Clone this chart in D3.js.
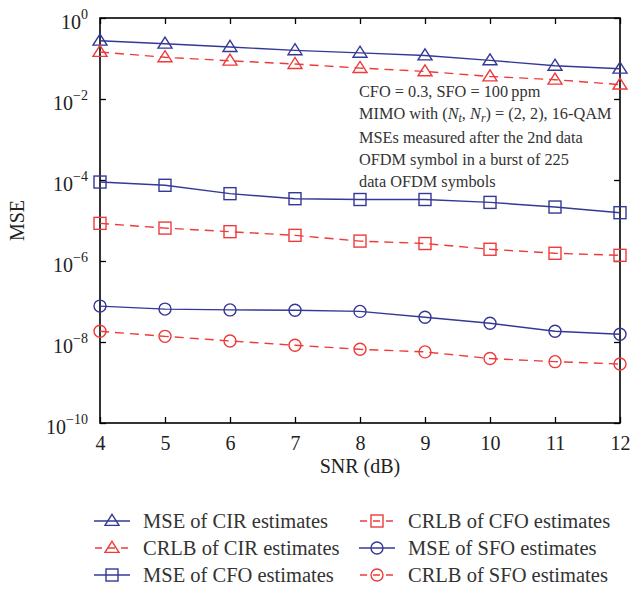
<!DOCTYPE html>
<html>
<head>
<meta charset="utf-8">
<script src="https://cdn.jsdelivr.net/npm/d3@7"></script>
<style>
  html, body { margin: 0; padding: 0; background: #fff; }
  svg { display: block; font-family: "Liberation Serif", "Times New Roman", serif; }
</style>
</head>
<body>
<svg id="chart" width="630" height="591"></svg>
<script>
// SNR points (dB)
const snr = [4, 5, 6, 7, 8, 9, 10, 11, 12];

// Simulated MSE values and Cramer-Rao lower bounds
const mseCIR  = [0.275, 0.232, 0.192, 0.159, 0.138, 0.119, 0.090, 0.066, 0.056];
const crlbCIR = [0.145, 0.107, 0.088, 0.073, 0.058, 0.048, 0.036, 0.030, 0.0226];
const mseCFO  = [8.9e-5, 7.4e-5, 4.6e-5, 3.45e-5, 3.3e-5, 3.3e-5, 2.8e-5, 2.15e-5, 1.56e-5];
const crlbCFO = [8.5e-6, 6.5e-6, 5.3e-6, 4.3e-6, 3.1e-6, 2.7e-6, 1.95e-6, 1.55e-6, 1.38e-6];
const mseSFO  = [7.7e-8, 6.5e-8, 6.2e-8, 6.1e-8, 5.7e-8, 4.1e-8, 2.9e-8, 1.84e-8, 1.55e-8];
const crlbSFO = [1.84e-8, 1.38e-8, 1.06e-8, 8.3e-9, 6.6e-9, 5.7e-9, 3.9e-9, 3.27e-9, 2.86e-9];

// Axis ticks
const xTicks = [4, 5, 6, 7, 8, 9, 10, 11, 12];
const yExponents = [0, -2, -4, -6, -8, -10];

const seriesNames = [
  "MSE of CIR estimates", "CRLB of CIR estimates", "MSE of CFO estimates",
  "CRLB of CFO estimates", "MSE of SFO estimates", "CRLB of SFO estimates"
];
const seriesValues = [mseCIR, crlbCIR, mseCFO, crlbCFO, mseSFO, crlbSFO];
const seriesMarkers = ["triangle", "triangle", "square", "square", "circle", "circle"];
const seriesKind = ["mse", "crlb", "mse", "crlb", "mse", "crlb"];

const BLUE = "#343896";
const RED = "#ee3a3a";

const svg = d3.select("#chart");
const plot = { left: 100, right: 620, top: 18, bottom: 423 };

const x = d3.scaleLinear().domain([4, 12]).range([plot.left, plot.right]);
const y = d3.scaleLog().domain([1e-10, 1]).range([plot.bottom, plot.top]);

// Frame
svg.append("rect")
  .attr("x", plot.left).attr("y", plot.top)
  .attr("width", plot.right - plot.left).attr("height", plot.bottom - plot.top)
  .attr("fill", "none").attr("stroke", "#000").attr("stroke-width", 1.6);

const tickVals = yExponents.map(e => Math.pow(10, e));

// Bottom axis with inward ticks
const gx = svg.append("g").attr("transform", `translate(0,${plot.bottom})`)
  .call(d3.axisBottom(x).tickValues(xTicks).tickSize(-6).tickPadding(13).tickFormat(d3.format("d")));
gx.select(".domain").remove();
gx.selectAll("line").attr("stroke", "#000").attr("stroke-width", 1.3);
gx.selectAll("text").attr("font-size", 20).attr("fill", "#222")
  .attr("font-family", "Liberation Serif, serif");

// Top axis ticks
const gxt = svg.append("g").attr("transform", `translate(0,${plot.top})`)
  .call(d3.axisTop(x).tickValues(xTicks).tickSize(-6).tickFormat(""));
gxt.select(".domain").remove();
gxt.selectAll("line").attr("stroke", "#000").attr("stroke-width", 1.3);

// Left axis with power-of-ten labels
const gy = svg.append("g").attr("transform", `translate(${plot.left},0)`)
  .call(d3.axisLeft(y).tickValues(tickVals).tickSize(-6).tickPadding(12).tickFormat(""));
gy.select(".domain").remove();
gy.selectAll("line").attr("stroke", "#000").attr("stroke-width", 1.3);
gy.selectAll(".tick").each(function(d) {
  const e = Math.round(Math.log10(d));
  const t = d3.select(this).select("text")
    .attr("font-family", "Liberation Serif, serif")
    .attr("fill", "#222").attr("font-size", 20).attr("dy", "0.5em");
  t.append("tspan").text("10");
  t.append("tspan").attr("font-size", 14).attr("dy", "-0.7em")
    .text(e === 0 ? "0" : "\u2212" + Math.abs(e));
});

// Right axis ticks
const gyr = svg.append("g").attr("transform", `translate(${plot.right},0)`)
  .call(d3.axisRight(y).tickValues(tickVals).tickSize(-6).tickFormat(""));
gyr.select(".domain").remove();
gyr.selectAll("line").attr("stroke", "#000").attr("stroke-width", 1.3);

// Axis titles
svg.append("text").attr("x", (plot.left + plot.right) / 2).attr("y", 473)
  .attr("text-anchor", "middle").attr("font-size", 20).attr("fill", "#222").text("SNR (dB)");
svg.append("text").attr("transform", `translate(24,${(plot.top + plot.bottom) / 2}) rotate(-90)`)
  .attr("text-anchor", "middle").attr("font-size", 20).attr("fill", "#222").text("MSE");

// Marker drawing
function drawMarker(g, type, cx, cy, color) {
  if (type === "triangle") {
    const h = 11, w = 14;
    g.append("path")
      .attr("d", `M${cx},${cy - h * 0.6}L${cx + w / 2},${cy + h * 0.4}L${cx - w / 2},${cy + h * 0.4}Z`)
      .attr("fill", "none").attr("stroke", color).attr("stroke-width", 1.4);
  } else if (type === "square") {
    const s = 12;
    g.append("rect").attr("x", cx - s / 2).attr("y", cy - s / 2).attr("width", s).attr("height", s)
      .attr("fill", "none").attr("stroke", color).attr("stroke-width", 1.4);
  } else {
    g.append("circle").attr("cx", cx).attr("cy", cy).attr("r", 6)
      .attr("fill", "none").attr("stroke", color).attr("stroke-width", 1.4);
  }
}

const line = d3.line().x((d, i) => x(snr[i])).y(d => y(d));

seriesValues.forEach((vals, k) => {
  const color = seriesKind[k] === "mse" ? BLUE : RED;
  const g = svg.append("g");
  g.append("path").datum(vals).attr("d", line)
    .attr("fill", "none").attr("stroke", color).attr("stroke-width", 1.4)
    .attr("stroke-dasharray", seriesKind[k] === "crlb" ? "9,6" : null);
  vals.forEach((v, i) => drawMarker(g, seriesMarkers[k], x(snr[i]), y(v), color));
});

// Simulation settings note
const note = svg.append("g").attr("font-size", 16.3).attr("fill", "#333");
const noteX = 359;
note.append("text").attr("x", noteX).attr("y", 97).text("CFO = 0.3, SFO = 100\u2009ppm");
const l2 = note.append("text").attr("x", noteX).attr("y", 119);
l2.append("tspan").text("MIMO with (");
l2.append("tspan").attr("font-style", "italic").text("N");
l2.append("tspan").attr("font-style", "italic").attr("font-size", 12).attr("dy", 3).text("t");
l2.append("tspan").attr("dy", -3).text(", ");
l2.append("tspan").attr("font-style", "italic").text("N");
l2.append("tspan").attr("font-style", "italic").attr("font-size", 12).attr("dy", 3).text("r");
l2.append("tspan").attr("dy", -3).text(") = (2, 2), 16-QAM");
note.append("text").attr("x", noteX).attr("y", 143).text("MSEs measured after the 2nd data");
note.append("text").attr("x", noteX).attr("y", 165).text("OFDM symbol in a burst of 225");
note.append("text").attr("x", noteX).attr("y", 187).text("data OFDM symbols");

// Legend: two columns of three entries
const legendCols = [{ x0: 94, x1: 130, tx: 143 }, { x0: 359, x1: 395, tx: 408 }];
const legendRows = [521, 548, 575];
seriesNames.forEach((name, k) => {
  const col = legendCols[Math.floor(k / 3)];
  const ry = legendRows[k % 3];
  const color = seriesKind[k] === "mse" ? BLUE : RED;
  const g = svg.append("g");
  g.append("line").attr("x1", col.x0).attr("x2", col.x1).attr("y1", ry).attr("y2", ry)
    .attr("stroke", color).attr("stroke-width", 1.4)
    .attr("stroke-dasharray", seriesKind[k] === "crlb" ? "7,6" : null)
    .attr("stroke-dashoffset", seriesKind[k] === "crlb" ? -1 : null);
  drawMarker(g, seriesMarkers[k], (col.x0 + col.x1) / 2, ry, color);
  g.append("text").attr("x", col.tx).attr("y", ry).attr("dy", "0.35em")
    .attr("font-size", 20.5).attr("fill", "#333").text(name);
});
</script>
</body>
</html>
